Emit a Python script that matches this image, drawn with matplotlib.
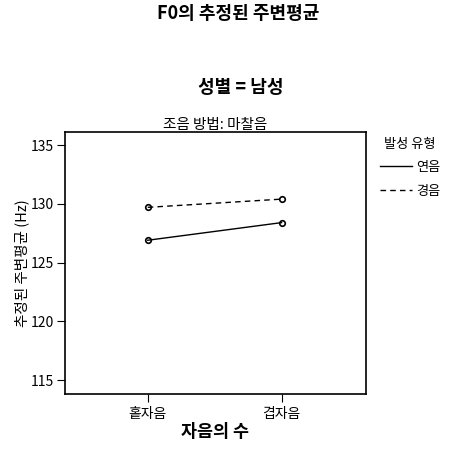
import matplotlib.pyplot as plt
from matplotlib.lines import Line2D

plt.rcParams['font.family'] = ['Noto Sans CJK KR', 'DejaVu Sans']

consonants = ['홑자음', '겹자음']
soft = [126.9, 128.4]   # 연음
tense = [129.7, 130.4]  # 경음

fig = plt.figure(figsize=(4.5, 4.51), dpi=100)
ax = fig.add_axes([0.144, 0.126, 0.669, 0.581])

x = range(len(consonants))
ax.plot(x, soft, color='black', linestyle='-', linewidth=1,
        marker='o', markersize=4, markerfacecolor='none', markeredgewidth=1.2)
ax.plot(x, tense, color='black', linestyle=(0, (4, 3)), linewidth=1,
        marker='o', markersize=4, markerfacecolor='none', markeredgewidth=1.2)

ax.set_xlim(-0.62, 1.63)
ax.set_ylim(113.8, 136.1)
ax.set_yticks([115, 120, 125, 130, 135])
ax.set_xticks(list(x))
ax.set_xticklabels(consonants, fontsize=10)
ax.tick_params(axis='y', labelsize=10, length=6, direction='out', pad=2)
ax.tick_params(axis='x', length=6, direction='out', pad=3)
for s in ax.spines.values():
    s.set_linewidth(1.2)

ax.set_xlabel('자음의 수', fontsize=12.5, fontweight='bold', labelpad=2)
ax.set_ylabel('추정된 주변평균 (Hz)', fontsize=10.5, labelpad=1)
ax.set_title('조음 방법: 마찰음', fontsize=10.5, pad=2)

fig.text(0.53, 0.97, 'F0의 추정된 주변평균', ha='center', va='center',
         fontsize=13, fontweight='bold')
fig.text(0.535, 0.807, '성별 = 남성', ha='center', va='center',
         fontsize=13, fontweight='bold')

handles = [Line2D([], [], color='black', linestyle='-', linewidth=1),
           Line2D([], [], color='black', linestyle=(0, (4, 3)), linewidth=1)]
fig.legend(handles, ['연음', '경음'], title='발성 유형', loc='upper left',
           bbox_to_anchor=(0.845, 0.695), frameon=False, fontsize=9.5,
           title_fontsize=9.5, handlelength=2.4, handletextpad=0.3,
           labelspacing=0.8, borderaxespad=0, borderpad=0)

fig.savefig('out.png', dpi=100)
